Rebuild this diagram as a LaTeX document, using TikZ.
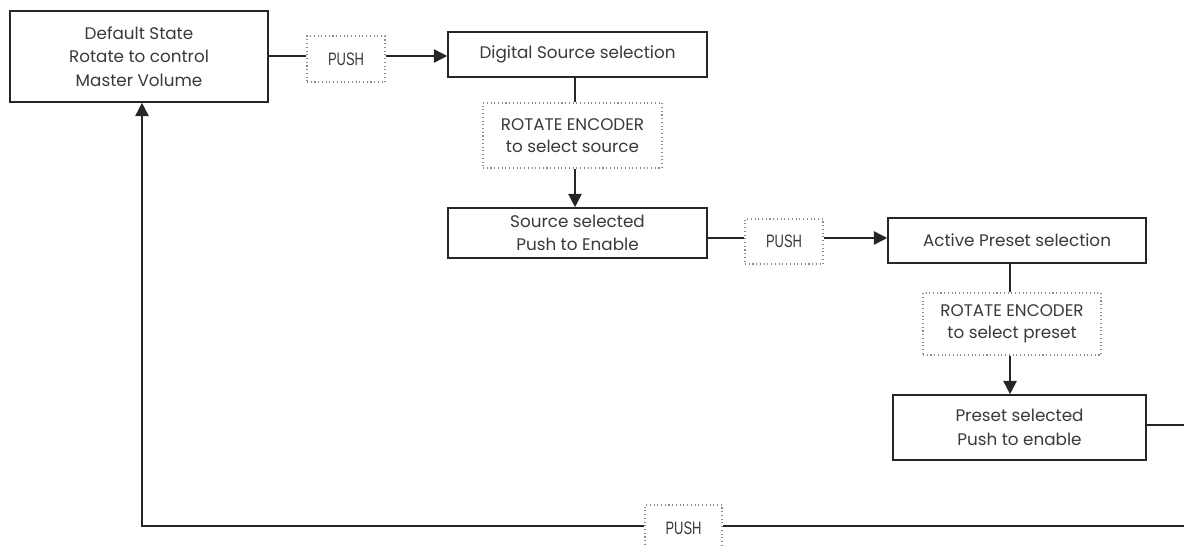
\documentclass[tikz,border=0pt]{standalone}
\usepackage{fontspec}
\setmainfont{Poppins}
\newfontfamily\pushfont[FakeStretch=0.72]{Liberation Sans}
\usetikzlibrary{arrows.meta}
\definecolor{txt}{HTML}{3A3A3A}
\definecolor{dots}{HTML}{8A8A8A}
\tikzset{
  stbox/.style={draw=black!85, line width=1.2pt, fill=white, align=center, text=txt,
    font=\fontsize{12.6pt}{17.5pt}\selectfont, inner sep=0pt},
  lblbox/.style={draw=dots, dotted, line width=0.8pt, fill=white, align=center, text=txt,
    font=\fontsize{12.6pt}{16.5pt}\selectfont, inner sep=0pt},
  pushbox/.style={lblbox, font=\pushfont\fontsize{13.5pt}{15pt}\selectfont},
  conn/.style={draw=black!85, line width=1.2pt},
  arr/.style={conn, -{Triangle[length=10pt,width=10pt]}}
}
\begin{document}
\begin{tikzpicture}[x=0.75pt,y=-0.75pt]
\useasboundingbox (0,0) rectangle (1184,546);
\clip (0,0) rectangle (1184,546);
\node[stbox, minimum width=193.5pt, minimum height=68.25pt] (def) at (139,56.5) {Default State\\Rotate to control\\Master Volume};
\node[pushbox, minimum width=58.5pt, minimum height=34.5pt] (push1) at (346,59) {PUSH};
\node[stbox, minimum width=194.25pt, minimum height=33.75pt] (dig) at (577.5,54.5) {Digital Source selection};
\node[lblbox, minimum width=134.25pt, minimum height=48.75pt] (rot1) at (572.5,135.5) {ROTATE ENCODER\\to select source};
\node[stbox, minimum width=194.25pt, minimum height=37.5pt] (src) at (577.5,233) {Source selected\\Push to Enable};
\node[pushbox, minimum width=58.5pt, minimum height=33.75pt] (push2) at (784,241.5) {PUSH};
\node[stbox, minimum width=193.5pt, minimum height=33.75pt] (act) at (1017,240.5) {Active Preset selection};
\node[lblbox, minimum width=133.5pt, minimum height=46.5pt] (rot2) at (1012,324) {ROTATE ENCODER\\to select preset};
\node[stbox, minimum width=189.75pt, minimum height=48.75pt] (pre) at (1019.5,427.5) {Preset selected\\Push to enable};
\node[pushbox, minimum width=57.75pt, minimum height=34.5pt] (push3) at (683.5,528) {PUSH};
\coordinate (rc) at (1200,425);
\coordinate (rb) at (1200,526);
\coordinate (lb) at (142,526);
% connectors
\draw[conn] (def.east |- 0,56) -- (push1.west |- 0,56);
\draw[arr] (push1.east |- 0,56) -- (dig.west |- 0,56);
\draw[conn] (dig.south -| 575,0) -- (rot1.north -| 575,0);
\draw[arr] (rot1.south -| 575,0) -- (src.north -| 575,0);
\draw[conn] (src.east |- 0,238) -- (push2.west |- 0,238);
\draw[arr] (push2.east |- 0,238) -- (act.west |- 0,238);
\draw[conn] (act.south -| 1010,0) -- (rot2.north -| 1010,0);
\draw[arr] (rot2.south -| 1010,0) -- (pre.north -| 1010,0);
\draw[conn] (pre.east |- 0,425) -- (rc) -- (rb) -- (push3.east |- rb);
\draw[arr] (push3.west |- rb) -- (lb) -- (def.south -| lb);
\end{tikzpicture}
\end{document}
